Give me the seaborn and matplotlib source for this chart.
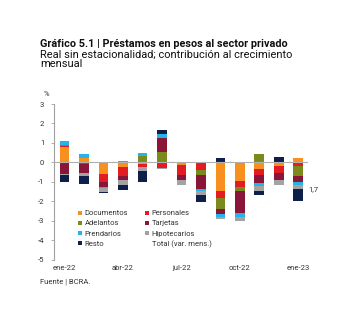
import matplotlib
matplotlib.use("Agg")
import matplotlib.pyplot as plt
import seaborn as sns
import numpy as np
import pandas as pd
from matplotlib.lines import Line2D

months = ["ene-22", "feb-22", "mar-22", "abr-22", "may-22", "jun-22", "jul-22",
          "ago-22", "sep-22", "oct-22", "nov-22", "dic-22", "ene-23"]
tick_labels = ["ene-22", "abr-22", "jul-22", "oct-22", "ene-23"]

documentos = [0.80, 0.22, -0.60, -0.22, -0.10, -0.02, -0.12, 0.00, -1.48, -0.95, -0.33, -0.17, 0.25]
personales = [0.03, -0.10, -0.40, -0.45, -0.14, -0.25, -0.50, -0.40, -0.35, -0.33, -0.29, -0.38, -0.18]
adelantos = [0.07, 0.00, 0.03, 0.00, 0.32, 0.55, 0.00, -0.22, -0.57, -0.20, 0.43, 0.00, -0.54]
tarjetas = [-0.60, -0.45, -0.25, -0.25, 0.00, 0.72, -0.30, -0.74, -0.26, -1.10, -0.45, -0.35, -0.26]
prendarios = [0.22, 0.19, -0.04, 0.09, 0.17, 0.18, 0.00, -0.10, -0.14, -0.20, -0.15, 0.00, -0.16]
hipotecarios = [-0.03, -0.16, -0.25, -0.24, -0.20, -0.06, -0.22, -0.20, -0.12, -0.20, -0.23, -0.27, -0.23]
resto = [-0.37, -0.39, -0.04, -0.24, -0.57, 0.22, -0.03, -0.35, 0.25, 0.00, -0.22, 0.30, -0.60]

series_names = ["Documentos", "Personales", "Adelantos", "Tarjetas",
                "Prendarios", "Hipotecarios", "Resto"]
series_vals = [documentos, personales, adelantos, tarjetas, prendarios, hipotecarios, resto]
colors = ["#F7901E", "#E31B23", "#7A8B1C", "#8A1538", "#25B4E6", "#A3A3A3", "#0F1F4B"]

total = np.sum(np.array(series_vals), axis=0)

sns.set_theme(style="white")
plt.rcParams["font.family"] = ["Roboto", "DejaVu Sans"]
plt.rcParams["axes.unicode_minus"] = False

fig = plt.figure(figsize=(3.5, 3.22), dpi=100)
ax = fig.add_axes([0.154, 0.193, 0.726, 0.484])

ax.axhline(0, color="#b0b0b0", linewidth=0.8, zorder=3)
# small tick marks on the zero line at quarter boundaries
ax.vlines(np.arange(2.5, len(months), 3), 0, 0.1, color="#b0b0b0", linewidth=0.6, zorder=3)

pos_bottom = np.zeros(len(months))
neg_bottom = np.zeros(len(months))
for name, vals, col in zip(series_names, series_vals, colors):
    v = np.array(vals, dtype=float)
    bottom = np.where(v >= 0, pos_bottom, neg_bottom)
    df = pd.DataFrame({"mes": months, "val": v})
    sns.barplot(data=df, x="mes", y="val", bottom=bottom, color=col,
                width=0.5, errorbar=None, ax=ax, linewidth=0, saturation=1, zorder=2)
    pos_bottom = pos_bottom + np.where(v >= 0, v, 0)
    neg_bottom = neg_bottom + np.where(v < 0, v, 0)

ax.set_xlim(-0.55, 12.5)
ax.set_ylim(-5, 3)
ax.set_yticks(range(-5, 4))
ax.set_yticklabels([str(i) for i in range(-5, 4)])
ax.set_xticks([0, 3, 6, 9, 12])
ax.set_xticklabels(tick_labels)
ax.set_xlabel("")
ax.set_ylabel("")

for s in ["top", "right", "bottom"]:
    ax.spines[s].set_visible(False)
ax.spines["left"].set_color("#a0a0a0")
ax.spines["left"].set_linewidth(0.8)
ax.tick_params(axis="y", length=2, width=0.6, color="#a0a0a0", labelsize=5.5,
               labelcolor="#333333", pad=5, left=True)
ax.tick_params(axis="x", length=0, labelsize=5.5, labelcolor="#333333", pad=4)

ax.annotate("1,7", xy=(12, total[-1]), xytext=(7, 5), textcoords="offset points",
            fontsize=5.5, color="#333333", va="center", ha="left")

ax.text(-0.028, 1.064, "%", transform=ax.transAxes, fontsize=5.5, color="#333333",
        ha="center", va="center")

handles = []
for name, col in zip(series_names, colors):
    handles.append(Line2D([], [], marker="s", linestyle="none", markersize=3,
                          markerfacecolor=col, markeredgewidth=0, label=name))
handles.append(Line2D([], [], marker="s", linestyle="none", markersize=3,
                      markerfacecolor="none", markeredgewidth=0, label="Total (var. mens.)"))
order = [0, 2, 4, 6, 1, 3, 5, 7]
leg = ax.legend([handles[i] for i in order], [handles[i].get_label() for i in order],
                ncol=2, loc="upper left", bbox_to_anchor=(0.082, 0.34), frameon=False,
                fontsize=5.5, handlelength=0.6, handletextpad=0.3, columnspacing=2.2,
                labelspacing=0.5, borderaxespad=0)
for t in leg.get_texts():
    t.set_color("#333333")

fig.text(0.114, 0.863, "Gráfico 5.1 | Préstamos en pesos al sector privado",
         fontsize=7.8, fontweight="bold", color="#111111", ha="left", va="center")
fig.text(0.114, 0.83, "Real sin estacionalidad; contribución al crecimiento",
         fontsize=7.95, color="#111111", ha="left", va="center")
fig.text(0.114, 0.80, "mensual", fontsize=7.95, color="#111111", ha="left", va="center")
fig.text(0.114, 0.124, "Fuente | BCRA.", fontsize=5.5, color="#333333",
         ha="left", va="center")

fig.savefig("out.png", dpi=100)
